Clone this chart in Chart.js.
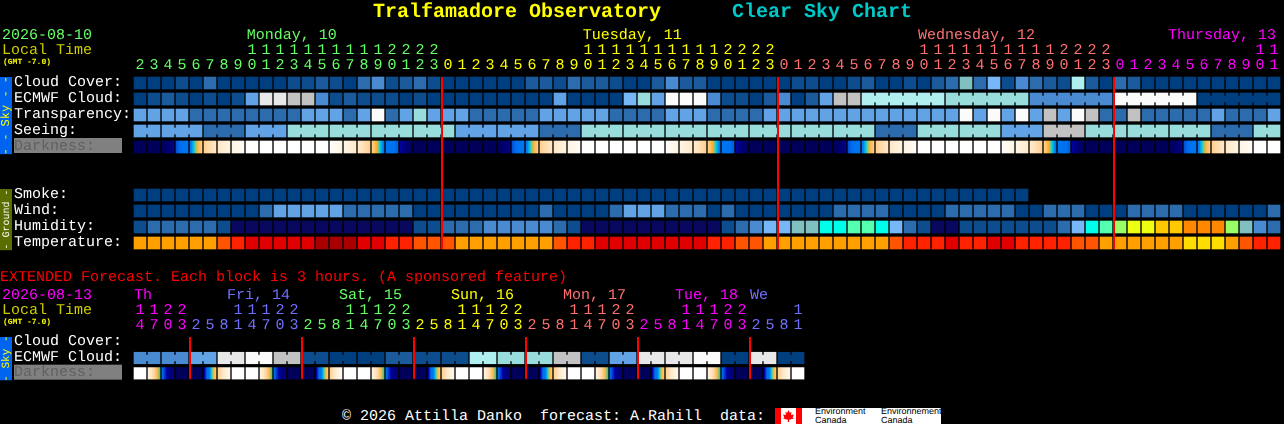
<!DOCTYPE html>
<html><head><meta charset="utf-8">
<script src="https://cdn.jsdelivr.net/npm/chart.js@4"></script>
<style>
html,body{margin:0;padding:0;background:#000;width:1284px;height:424px;overflow:hidden;text-rendering:geometricPrecision}
canvas{position:absolute;display:block}
.t{position:absolute;white-space:pre;font-family:"Liberation Mono",monospace;font-size:15px;line-height:16px}
</style></head><body>
<canvas id="main" width="1284" height="260" style="left:0;top:0"></canvas>
<canvas id="ext" width="810" height="110" style="left:0;top:280px"></canvas>
<div class="t" style="left:373px;top:1px;font-size:20px;line-height:24px;font-weight:bold;color:#ffff00">Tralfamadore Observatory</div>
<div class="t" style="left:732px;top:1px;font-size:20px;line-height:24px;font-weight:bold;color:#00c8c8">Clear Sky Chart</div>
<div class="t" style="left:0;top:270px;color:#ff0000">EXTENDED Forecast. Each block is 3 hours. (A sponsored feature)</div>
<div class="t" style="left:342px;top:409px;color:#ffffff">© 2026 Attilla Danko  forecast: A.Rahill  data:</div>
<div style="position:absolute;left:775px;top:408px;width:166px;height:16px;background:#fff"></div>
<div style="position:absolute;left:775px;top:408px;width:6px;height:16px;background:#f00"></div>
<div style="position:absolute;left:796px;top:408px;width:6px;height:16px;background:#f00"></div>
<div style="position:absolute;left:783px;top:410px;width:11px;height:12px;background:#f00;clip-path:polygon(50% 0,62% 22%,78% 16%,72% 42%,100% 38%,88% 62%,100% 70%,56% 82%,56% 100%,44% 100%,44% 82%,0 70%,12% 62%,0 38%,28% 42%,22% 16%,38% 22%)"></div>
<div class="t" style="left:815px;top:407px;font:9px/9px 'Liberation Sans',sans-serif;color:#000">Environment
Canada</div>
<div class="t" style="left:881px;top:407px;font:9px/9px 'Liberation Sans',sans-serif;color:#000">Environnement
Canada</div>
<script>
/* ---------- categories & tick labels ---------- */
const hours = [2,3,4,5,6,7,8,9,10,11,12,13,14,15,16,17,18,19,20,21,22,23,
 0,1,2,3,4,5,6,7,8,9,10,11,12,13,14,15,16,17,18,19,20,21,22,23,
 0,1,2,3,4,5,6,7,8,9,10,11,12,13,14,15,16,17,18,19,20,21,22,23,
 0,1,2,3,4,5,6,7,8,9,10,11];
const hourDay = [0,0,0,0,0,0,0,0,0,0,0,0,0,0,0,0,0,0,0,0,0,0,
 1,1,1,1,1,1,1,1,1,1,1,1,1,1,1,1,1,1,1,1,1,1,1,1,
 2,2,2,2,2,2,2,2,2,2,2,2,2,2,2,2,2,2,2,2,2,2,2,2,
 3,3,3,3,3,3,3,3,3,3,3,3];
const dayNames = ["Monday, 10","Tuesday, 11","Wednesday, 12","Thursday, 13"];
const dayStarts = [8.05,32.05,56,73.86];
const dayColors = ["#66ff66","#ffff00","#ff7070","#ff00ff"];
const midnights = [22,46,70];
const mainRowLabels = ["Cloud Cover:","ECMWF Cloud:","Transparency:","Seeing:","Darkness:","Smoke:","Wind:","Humidity:","Temperature:"];

const extHours = [14,17,20,23,2,5,8,11,14,17,20,23,2,5,8,11,14,17,20,23,2,5,8,11,14,17,20,23,2,5,8,11,14,17,20,23,2,5,8,11,14,17,20,23,2,5,8,11];
const extHourDay = [0,0,0,0,1,1,1,1,1,1,1,1,2,2,2,2,2,2,2,2,3,3,3,3,3,3,3,3,4,4,4,4,4,4,4,4,5,5,5,5,5,5,5,5,6,6,6,6];
const extDayNames = ["Th","Fri, 14","Sat, 15","Sun, 16","Mon, 17","Tue, 18","We"];
const extDayStarts = [0,6.64,14.64,22.64,30.64,38.64,44];
const extDayColors = ["#ff00ff","#7070ff","#66ff66","#ffff00","#ff7070","#ff00ff","#7070ff"];
const extMidnights = [4,12,20,28,36,44];
const extRowLabels = ["Cloud Cover:","ECMWF Cloud:","Darkness:"];

/* ---------- colour levels ---------- */
const skyLevels = ["#003f7f","#0d4d8d","#1b5b9b","#2c6cac","#4a8ad0","#62a3e6","#77b7f7","#99dcdc","#afefef","#c2c2c2","#e8e8e8","#fbfbfb","#80c0c0","#08085f","#00ffea","#55ffb0","#99ff66","#eeff11","#ffc800","#ff8800"];
const tempLevels = ["#a80000","#e00000","#ff2200","#ff5500","#ffa000","#ffdd00"];
const darkStops = [[0,"#00005a"],[.15,"#000078"],[.22,"#0000a8"],[.27,"#0050d0"],[.3,"#0070f0"],[.38,"#0078f0"],[.44,"#00c8e0"],[.48,"#70c890"],[.52,"#ffb030"],[.62,"#ffd090"],[.74,"#ffe8c8"],[.86,"#fff4e4"],[1,"#ffffff"]];

/* ---------- series ---------- */
const cloudCover = [0,0,0,1,0,3,0,0,0,0, 0,1,1,2,1,0,3,4,1,2, 3,1,0,0,0,0,0,0,2,2, 1,3,2,2,1,0,0,2,4,2, 2,0,0,0,0,0,0,1,1,0, 0,1,2,0,0,1,0,2,3,12, 3,6,1,4,3,2,1,8,2,0, 3,2,0,0,0,0,0,0,0,0,0,0];
const ecmwfCloud = [0,1,2,1,0,1,0,1,5,10, 10,9,9,4,1,2,1,1,1,0, 1,0,0,0,0,0,0,0,0,0, 5,0,0,0,0,6,7,5,11,11, 11,4,1,1,0,2,4,0,2,5, 9,9, 8,8,8,8,8,8, 7,7,7,7,7,7, 4,4,4,4,4,4, 11,11,11,11,11,11, 0,0,0,0,0,0];
const ecmwfSpans = [1,1,1,1,1,1,1,1,1,1,1,1,1,1,1,1,1,1,1,1,1,1,1,1,1,1,1,1,1,1,1,1,1,1,1,1,1,1,1,1,1,1,1,1,1,1,1,1,1,1,1,1,6,6,6,6,6];
const transparency = [5,5,5,5,3,3,3,3,3,3, 3,3,5,5,5,3,5,11,3,5, 7,5,5,5,3,3,3,3,3,5, 5,5,5,5,3,3,3,3,5,5, 5,3,3,3,3,5,5,5,5,5, 5,5,5,5,5,5,5,5,5,11, 5,11,5,11,5,9,5,11,9,3, 3,9,3,3,3,3,3,5,3,3,3,5];
const seeingBlocks = [5,5,3,5,7,7,7,7,5,5,3,7,7,7,7,7,7,7,3,7,7,5,9,7,7,7,3,7];
const seeingSpans = [2,3,3,3,3,3,3,3,3,3,3,3,3,3,3,3,3,3,3,3,3,3,3,3,3,3,3,2];
const darkStart = [0,0,0,.27,.36,.62,.74,.85,1,1, 1,1,1,1,.97,.86,.76,.62,.34,.22, 0,0,0,0,0,0,0,.27,.36,.62, .74,.85,1,1,1,1,1,1,.97,.86, .76,.62,.34,.22,0,0,0,0,0,0, 0,.27,.36,.62,.74,.85,1,1,1,1, 1,1,.97,.86,.76,.62,.34,.22,0,0, 0,0,0,0,0,.27,.36,.62,.74,.85,1,1];
const darkEnd   = [0,0,.2,.36,.62,.74,.85,.97,1,1, 1,1,1,1,.86,.76,.62,.36,.28,.04, 0,0,0,0,0,0,.2,.36,.62,.74, .85,.97,1,1,1,1,1,1,.86,.76, .62,.36,.28,.04,0,0,0,0,0,0, .2,.36,.62,.74,.85,.97,1,1,1,1, 1,1,.86,.76,.62,.36,.28,.04,0,0, 0,0,0,0,.2,.36,.62,.74,.85,.97,1,1];
const smoke = [0,0,0,0,0,0,0,0,0,0,0,0,0,0,0,0,0,0,0,0,0,0,0,0,0,0,0,0,0,0,0,0,0,0,0,0,0,0,0,0,0,0,0,0,0,0,0,0,0,0,0,0,0,0,0,0,0,0,0,0,0,0,0,0];
const wind = [0,0,0,0,0,0,0,0,0,3, 5,5,5,5,5,3,3,3,3,3, 0,0,0,0,0,0,0,0,0,3, 0,0,0,0,3,5,5,5,3,3, 3,0,3,0,0,0,0,0,0,0, 3,3,3,3,0,0,0,0,3,3, 3,3,3,0,0,3,3,3,0,0, 0,3,3,3,3,0,0,0,0,0,0,3];
const humidity = [1,3,3,3,3,3,1,13,13,13, 13,13,13,13,13,13,13,13,13,13, 1,1,3,3,3,4,4,4,4,4, 3,1,13,13,13,13,13,13,13,13, 13,13,1,3,4,6,6,12,12,14, 14,15,15,14,6,3,1,13,13,1, 1,1,1,1,1,1,3,6,14,15, 16,17,17,18,18,19,19,19,16,12,4,3];
const temperature = [4,4,4,4,4,4,3,2,1,1, 1,1,1,0,0,0,1,1,2,2, 3,3,3,4,4,4,4,4,4,4, 3,2,2,1,1,1,1,1,1,1, 1,2,2,3,3,4,4,4,4,4, 4,4,4,4,3,2,2,2,1,2, 2,1,1,2,2,2,2,3,3,4, 4,4,4,4,4,5,5,5,4,3,2,2];

const extEcmwfBlocks = [4,4,5,10,11,9,1,0,0,2,1,1,8,7,7,9,1,5,10,10,11,0,10,0];
const extEcmwfSpans = [2,2,2,2,2,2,2,2,2,2,2,2,2,2,2,2,2,2,2,2,2,2,2,2];
const extDarkStart = [1,.84,.3,0,0,.2,.62,1, 1,.84,.3,0,0,.2,.62,1, 1,.84,.3,0,0,.2,.62,1, 1,.84,.3,0,0,.2,.62,1, 1,.84,.3,0,0,.2,.62,1, 1,.84,.3,0,0,.2,.62,1];
const extDarkEnd   = [1,.45,.1,0,0,.6,.9,1, 1,.45,.1,0,0,.6,.95,1, 1,.44,.1,0,0,.6,.9,1, 1,.44,.1,0,0,.6,.9,1, 1,.44,.1,0,0,.6,.9,1, 1,.44,.1,0,0,.6,.9,1];

/* ---------- helpers ---------- */
const MONO = '"Liberation Mono", monospace';
Chart.defaults.font.family = MONO;
const expand = (vals, spans) => vals.flatMap((v, k) => Array.from({length: spans[k]}, () => v));

function hexLerp(a, b, t) {
  const p = h => [1,3,5].map(k => parseInt(h.slice(k, k + 2), 16));
  const A = p(a), B = p(b);
  return `rgb(${A.map((v, k) => Math.round(v + (B[k] - v) * t)).join(',')})`;
}
function darkColor(v) {
  for (let k = 1; k < darkStops.length; k++) {
    if (v <= darkStops[k][0]) {
      const [a, ca] = darkStops[k - 1], [b, cb] = darkStops[k];
      return hexLerp(ca, cb, (v - a) / (b - a));
    }
  }
  return darkStops[darkStops.length - 1][1];
}
function darkFill(start, end) {
  return function (c) {
    const a = start[c.dataIndex], b = end[c.dataIndex];
    if (a === b) return darkColor(a);
    const x = c.chart.scales.x.getPixelForValue(c.dataIndex);
    const g = c.chart.ctx.createLinearGradient(x - 6, 0, x + 6, 0);
    g.addColorStop(0, darkColor(a));
    darkStops.forEach(([v]) => {
      const t = (v - a) / (b - a);
      if (t > 0 && t < 1) g.addColorStop(t, darkColor(v));
    });
    g.addColorStop(1, darkColor(b));
    return g;
  };
}
function cellSet(slot, values, colors) {
  return {
    type: 'bar', xAxisID: 'x', yAxisID: 'y', grouped: false, barThickness: 12, borderWidth: 0,
    data: values.map(v => (v === null ? null : [slot + .125, slot + .875])),
    backgroundColor: colors
  };
}
function levelSet(slot, values, palette) {
  return cellSet(slot, values, values.map(v => palette[v]));
}
function bridgeSet(slot, values, spans, palette) {
  const data = [], colors = [];
  let at = 0;
  spans.forEach(n => {
    for (let k = 0; k < n - 1; k++) {
      data.push({x: at + k + .5, y: [slot + .3125, slot + .6875]});
      colors.push(palette[values[at + k]]);
    }
    at += n;
  });
  return {type: 'bar', xAxisID: 'xb', yAxisID: 'y', grouped: false, barThickness: 2, borderWidth: 0, data, backgroundColor: colors};
}

function decor(o) {
  return {
    id: 'decor',
    beforeDraw(chart) {
      const c = chart.ctx, y = chart.scales.y;
      c.textRendering = 'geometricPrecision';
      c.save();
      c.fillStyle = '#808080';
      const dy = y.getPixelForValue(o.darkSlot);
      c.fillRect(14, dy - 1 + 0, 108, 15);
      o.sideBoxes.forEach(b => {
        const y0 = y.getPixelForValue(b.from) + 2, y1 = y.getPixelForValue(b.to);
        c.fillStyle = b.fill;
        c.fillRect(0, y0, 12, y1 - y0);
        c.save();
        c.translate(6, (y0 + y1) / 2);
        c.rotate(-Math.PI / 2);
        c.fillStyle = b.ink;
        c.font = `${b.size}px ${MONO}`;
        c.textAlign = 'center';
        c.textBaseline = 'middle';
        c.fillText(b.text, 0, 0);
        c.restore();
      });
      c.textAlign = 'left';
      c.textBaseline = 'alphabetic';
      c.font = `15px ${MONO}`;
      c.fillStyle = o.dateColor;
      c.fillText(o.date, 2, o.dateY);
      c.fillStyle = '#cccc00';
      c.fillText('Local Time', 2, o.dateY + 15);
      c.font = `bold 8px ${MONO}`;
      c.fillStyle = '#ffff00';
      c.fillText('(GMT -7.0)', 3, o.dateY + 25);
      c.font = `15px ${MONO}`;
      const x = chart.scales.x;
      o.dayNames.forEach((t, k) => {
        c.fillStyle = o.dayColors[k];
        c.fillText(t, x.getPixelForValue(o.dayStarts[k]) - 6, o.dateY);
      });
      c.restore();
    },
    afterDatasetsDraw(chart) {
      const c = chart.ctx, x = chart.scales.x, a = chart.chartArea;
      c.save();
      c.fillStyle = '#ff0000';
      o.midnights.forEach(m => c.fillRect(x.getPixelForValue(m) - 7, a.top + 2, 2, a.bottom - a.top - 4));
      c.restore();
    }
  };
}

function build(id, o) {
  const n = o.hours.length;
  return new Chart(document.getElementById(id), {
    type: 'bar',
    data: {
      labels: o.hours.map(h => [h >= 10 ? String(Math.floor(h / 10)) : ' ', String(h % 10)]),
      datasets: o.datasets
    },
    plugins: [decor(o)],
    options: {
      responsive: false, animation: false, devicePixelRatio: 1, events: [],
      layout: {padding: {left: 14, right: o.rightPad, top: 0, bottom: o.bottomPad}},
      plugins: {legend: {display: false}, tooltip: {enabled: false}, title: {display: false}},
      scales: {
        x: {
          type: 'category', position: 'top', offset: true,
          grid: {display: false, drawTicks: false}, border: {display: false},
          afterFit(s) { s.height = o.axisHeight; },
          ticks: {
            autoSkip: false, maxRotation: 0, minRotation: 0, padding: 2,
            font: {size: 15, lineHeight: '15px'},
            color: c => o.dayColors[o.hourDay[c.index]]
          }
        },
        xb: {type: 'linear', display: false, offset: false, min: -.5, max: n - .5, grid: {display: false}},
        y: {
          type: 'linear', position: 'left', reverse: true, min: 0, max: o.slots,
          grid: {display: false, drawTicks: false}, border: {display: false},
          afterFit(s) { s.width = 119; },
          afterBuildTicks(s) { s.ticks = o.labelSlots.map(v => ({value: v + .42})); },
          ticks: {
            autoSkip: false, crossAlign: 'far', padding: 0,
            font: {size: 15},
            callback: (v, k) => o.rowLabels[k],
            color: c => (o.rowLabels[c.index] === 'Darkness:' ? '#606060' : '#ffffff')
          }
        }
      }
    }
  });
}

const seeing = expand(seeingBlocks, seeingSpans);
build('main', {
  hours, hourDay, dayNames, dayStarts, dayColors, midnights,
  rowLabels: mainRowLabels, labelSlots: [0,1,2,3,4,7,8,9,10], slots: 11,
  rightPad: 3, bottomPad: 9, axisHeight: 75, dateY: 39, date: '2026-08-10', dateColor: '#66ff66', darkSlot: 4,
  sideBoxes: [
    {from: 0, to: 4.95, fill: '#0064f0', ink: '#ffff00', text: '- - Sky - -', size: 12},
    {from: 7, to: 10.95, fill: '#5a6e00', ink: '#ffffff', text: '- Ground -', size: 10}
  ],
  datasets: [
    levelSet(0, cloudCover, skyLevels),
    levelSet(1, ecmwfCloud, skyLevels),
    bridgeSet(1, ecmwfCloud, ecmwfSpans, skyLevels),
    levelSet(2, transparency, skyLevels),
    levelSet(3, seeing, skyLevels),
    bridgeSet(3, seeing, seeingSpans, skyLevels),
    cellSet(4, darkStart, darkFill(darkStart, darkEnd)),
    levelSet(7, smoke, skyLevels),
    levelSet(8, wind, skyLevels),
    levelSet(9, humidity, skyLevels),
    levelSet(10, temperature, tempLevels)
  ]
});

const extEcmwf = expand(extEcmwfBlocks, extEcmwfSpans);
build('ext', {
  hours: extHours, hourDay: extHourDay, dayNames: extDayNames, dayStarts: extDayStarts, dayColors: extDayColors, midnights: extMidnights,
  rowLabels: extRowLabels, labelSlots: [0,1,2], slots: 3,
  rightPad: 5, bottomPad: 7, axisHeight: 55, dateY: 19, date: '2026-08-13', dateColor: '#ff00ff', darkSlot: 2,
  sideBoxes: [{from: 0, to: 2.95, fill: '#0064f0', ink: '#ffff00', text: '- Sky -', size: 11}],
  datasets: [
    levelSet(1, extEcmwf, skyLevels),
    bridgeSet(1, extEcmwf, extEcmwfSpans, skyLevels),
    cellSet(2, extDarkStart, darkFill(extDarkStart, extDarkEnd))
  ]
});
</script>
</body></html>
